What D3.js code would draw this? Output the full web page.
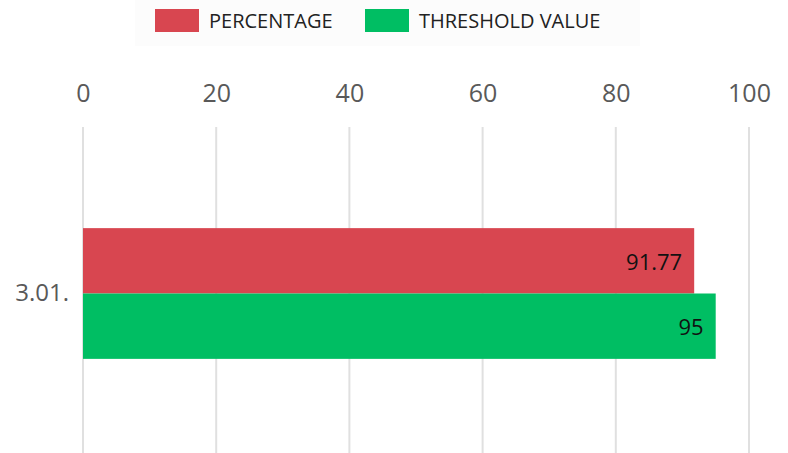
<!DOCTYPE html>
<html>
<head>
<meta charset="utf-8">
<script src="https://cdn.jsdelivr.net/npm/d3@7"></script>
<style>
  body { margin: 0; background: #fff; }
  svg { display: block; font-family: "Open Sans", "Noto Sans", sans-serif; }
</style>
</head>
<body>
<svg width="788" height="453"></svg>
<script>
var categories = ["3.01."];
var seriesNames = ["PERCENTAGE", "THRESHOLD VALUE"];
var seriesColors = ["#d84650", "#00be63"];
var percentage = [91.77];
var threshold = [95];
var tickValues = [0, 20, 40, 60, 80, 100];

var svg = d3.select("svg");

// legend box
var lg = svg.append("g");
lg.append("rect").attr("x", 135).attr("y", 0).attr("width", 505).attr("height", 46)
  .attr("fill", "#fcfcfc");
var legendX = [155, 365];
seriesNames.forEach(function (name, i) {
  lg.append("rect").attr("x", legendX[i]).attr("y", 9).attr("width", 44).attr("height", 23)
    .attr("fill", seriesColors[i]);
  lg.append("text").attr("x", legendX[i] + 54).attr("y", 21).attr("dy", "0.35em")
    .attr("font-size", 20).attr("fill", "#222").text(name);
});

var scX = d3.scaleLinear().domain([0, 100]).range([83, 749]);
var scY = d3.scaleBand().domain(categories).range([134, 453]).paddingInner(0).paddingOuter(0.72);

// grid
svg.append("g").selectAll("line").data(tickValues).enter().append("line")
  .attr("x1", d => scX(d)).attr("x2", d => scX(d))
  .attr("y1", 127).attr("y2", 453)
  .attr("stroke", "#e0e0e0").attr("stroke-width", 2);

// top axis labels
var ax = svg.append("g").attr("transform", "translate(0, 93)")
  .call(d3.axisTop(scX).tickValues(tickValues).tickSize(0).tickPadding(0));
ax.select(".domain").remove();
ax.selectAll("text").attr("font-size", 25).attr("fill", "#595959")
  .attr("font-family", "'Open Sans', 'Noto Sans', sans-serif").attr("dy", "0.35em");

// category axis
var ay = svg.append("g").attr("transform", "translate(69, 0)")
  .call(d3.axisLeft(scY).tickSize(0).tickPadding(0));
ay.select(".domain").remove();
ay.selectAll("text").attr("font-size", 24).attr("fill", "#595959")
  .attr("font-family", "'Open Sans', 'Noto Sans', sans-serif");

var sub = d3.scaleBand().domain([0, 1]).range([0, scY.bandwidth()]);
var series = [percentage, threshold];

series.forEach(function (vals, si) {
  var g = svg.append("g");
  g.selectAll("rect").data(vals).enter().append("rect")
    .attr("x", scX(0))
    .attr("y", (d, i) => scY(categories[i]) + sub(si))
    .attr("width", d => scX(d) - scX(0))
    .attr("height", sub.bandwidth())
    .attr("fill", seriesColors[si]);
  g.selectAll("text").data(vals).enter().append("text")
    .attr("x", d => scX(d) - 12)
    .attr("y", (d, i) => scY(categories[i]) + sub(si) + sub.bandwidth() / 2 + 1)
    .attr("dy", "0.35em").attr("text-anchor", "end")
    .attr("font-size", 22).attr("fill", "#111")
    .text(d => d);
});
</script>
</body>
</html>
